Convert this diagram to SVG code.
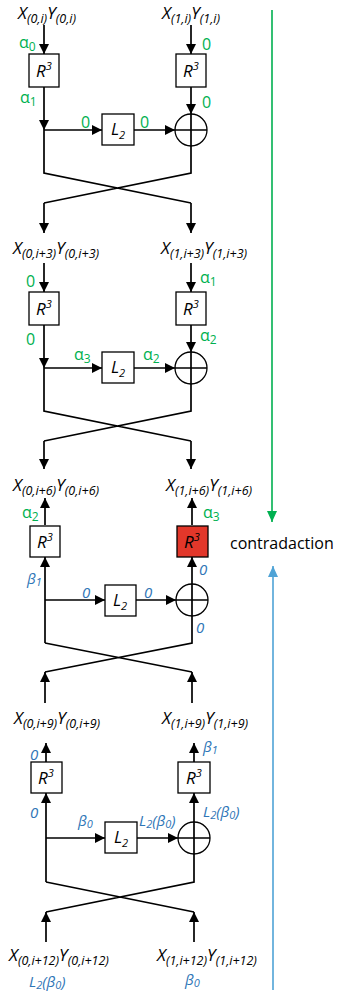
<svg xmlns="http://www.w3.org/2000/svg" width="340" height="995" viewBox="0 0 340 995">
<style>
text{font-family:"Open Sans","Liberation Sans",sans-serif}
.lbl{font-size:17px;font-style:italic;fill:#000}
.lbl .s{font-size:12.5px}
.bt{font-size:17px;font-style:italic;fill:#000}
.bt .s{font-size:11px}
.g{font-size:16px;fill:#00B050}
.g .s{font-size:12px}
.b{font-size:15px;font-style:italic;fill:#2E75B6}
.b .s{font-size:11px}
.box{fill:#fff;stroke:#000;stroke-width:1.3}
.red{fill:#E2372A;stroke:#000;stroke-width:1.3}
.ln{fill:none;stroke:#000;stroke-width:1.7}
.a{marker-end:url(#ah)}
.xor{fill:#fff;stroke:#000;stroke-width:1.3}
</style>
<defs>
<marker id="ah" markerWidth="10" markerHeight="10" refX="10" refY="5" orient="auto" markerUnits="userSpaceOnUse"><path d="M0,0 L10,5 L0,10 z" fill="#000"/></marker>
<marker id="ag" markerWidth="12" markerHeight="12" refX="11" refY="6" orient="auto" markerUnits="userSpaceOnUse"><path d="M0,1 L11,6 L0,11 z" fill="#00B050"/></marker>
<marker id="ab" markerWidth="12" markerHeight="12" refX="11" refY="6" orient="auto" markerUnits="userSpaceOnUse"><path d="M0,1 L11,6 L0,11 z" fill="#4FA3D6"/></marker>
</defs>

<g id="connectors">
<line class="ln a" x1="44" y1="25" x2="44" y2="54"/>
<line class="ln a" x1="191" y1="25" x2="191" y2="54"/>
<line class="ln a" x1="44" y1="87" x2="44" y2="130"/>
<line class="ln a" x1="191" y1="87" x2="191" y2="114"/>
<line class="ln a" x1="44" y1="130" x2="102" y2="130"/>
<line class="ln a" x1="134" y1="130" x2="175" y2="130"/>
<path class="ln" d="M44,130 V173 L191,203 M191,146 V173 L44,203"/>
<line class="ln a" x1="44" y1="203" x2="44" y2="233"/>
<line class="ln a" x1="191" y1="203" x2="191" y2="233"/>
<line class="ln a" x1="44" y1="263" x2="44" y2="292"/>
<line class="ln a" x1="191" y1="263" x2="191" y2="292"/>
<line class="ln a" x1="44" y1="325" x2="44" y2="368"/>
<line class="ln a" x1="191" y1="325" x2="191" y2="352"/>
<line class="ln a" x1="44" y1="368" x2="102" y2="368"/>
<line class="ln a" x1="134" y1="368" x2="175" y2="368"/>
<path class="ln" d="M44,368 V411 L191,441 M191,384 V411 L44,441"/>
<line class="ln a" x1="44" y1="441" x2="44" y2="469"/>
<line class="ln a" x1="191" y1="441" x2="191" y2="469"/>
<line class="ln a" x1="45" y1="525" x2="45" y2="498"/>
<line class="ln a" x1="192" y1="525" x2="192" y2="498"/>
<line class="ln a" x1="45" y1="643" x2="45" y2="557"/>
<line class="ln a" x1="45" y1="600" x2="105" y2="600"/>
<line class="ln a" x1="136" y1="600" x2="176" y2="600"/>
<line class="ln a" x1="192" y1="584" x2="192" y2="557"/>
<path class="ln" d="M192,616 V643 L45,672 M45,643 L192,672"/>
<line class="ln a" x1="45" y1="703" x2="45" y2="672"/>
<line class="ln a" x1="192" y1="703" x2="192" y2="672"/>
<line class="ln a" x1="46" y1="762" x2="46" y2="743"/>
<line class="ln a" x1="194" y1="762" x2="194" y2="743"/>
<line class="ln a" x1="46" y1="882" x2="46" y2="793"/>
<line class="ln a" x1="46" y1="838" x2="105" y2="838"/>
<line class="ln a" x1="137" y1="838" x2="178" y2="838"/>
<line class="ln a" x1="194" y1="822" x2="194" y2="793"/>
<path class="ln" d="M194,854 V882 L46,912 M46,882 L194,912"/>
<line class="ln a" x1="46" y1="942" x2="46" y2="912"/>
<line class="ln a" x1="194" y1="942" x2="194" y2="912"/>
<line x1="272" y1="10" x2="272" y2="522" stroke="#00B050" stroke-width="1.6" marker-end="url(#ag)"/>
<line x1="273" y1="990" x2="273" y2="566" stroke="#4FA3D6" stroke-width="1.6" marker-end="url(#ab)"/>
</g>

<g id="state-0i">
<text class="lbl" x="18" y="19">X<tspan class="s" dy="4">(0,i)</tspan><tspan dy="-4">Y</tspan><tspan class="s" dy="4">(0,i)</tspan></text>
<text class="lbl" x="162" y="19">X<tspan class="s" dy="4">(1,i)</tspan><tspan dy="-4">Y</tspan><tspan class="s" dy="4">(1,i)</tspan></text>
</g>
<g id="state-i3">
<text class="lbl" x="13" y="254">X<tspan class="s" dy="4">(0,i+3)</tspan><tspan dy="-4">Y</tspan><tspan class="s" dy="4">(0,i+3)</tspan></text>
<text class="lbl" x="161" y="254">X<tspan class="s" dy="4">(1,i+3)</tspan><tspan dy="-4">Y</tspan><tspan class="s" dy="4">(1,i+3)</tspan></text>
</g>
<g id="state-i6">
<text class="lbl" x="13" y="491">X<tspan class="s" dy="4">(0,i+6)</tspan><tspan dy="-4">Y</tspan><tspan class="s" dy="4">(0,i+6)</tspan></text>
<text class="lbl" x="166" y="491">X<tspan class="s" dy="4">(1,i+6)</tspan><tspan dy="-4">Y</tspan><tspan class="s" dy="4">(1,i+6)</tspan></text>
</g>
<g id="state-i9">
<text class="lbl" x="14" y="724">X<tspan class="s" dy="4">(0,i+9)</tspan><tspan dy="-4">Y</tspan><tspan class="s" dy="4">(0,i+9)</tspan></text>
<text class="lbl" x="162" y="724">X<tspan class="s" dy="4">(1,i+9)</tspan><tspan dy="-4">Y</tspan><tspan class="s" dy="4">(1,i+9)</tspan></text>
</g>
<g id="state-i12">
<text class="lbl" x="9" y="961">X<tspan class="s" dy="4">(0,i+12)</tspan><tspan dy="-4">Y</tspan><tspan class="s" dy="4">(0,i+12)</tspan></text>
<text class="lbl" x="157" y="961">X<tspan class="s" dy="4">(1,i+12)</tspan><tspan dy="-4">Y</tspan><tspan class="s" dy="4">(1,i+12)</tspan></text>
</g>

<g id="r3-1l"><rect class="box" x="29" y="54" width="30" height="33"/><text class="bt" x="44" y="77" text-anchor="middle">R<tspan class="s" dy="-7">3</tspan></text></g>
<g id="r3-1r"><rect class="box" x="176" y="54" width="30" height="33"/><text class="bt" x="191" y="77" text-anchor="middle">R<tspan class="s" dy="-7">3</tspan></text></g>
<g id="l2-1"><rect class="box" x="102" y="114" width="32" height="31"/><text class="bt" x="118" y="135" text-anchor="middle">L<tspan class="s" dy="4">2</tspan></text></g>
<g id="xor-1"><circle class="xor" cx="191" cy="130" r="16"/><path class="ln" d="M175,130 H207 M191,114 V146" stroke-width="1.3"/></g>

<g id="r3-2l"><rect class="box" x="29" y="292" width="30" height="33"/><text class="bt" x="44" y="315" text-anchor="middle">R<tspan class="s" dy="-7">3</tspan></text></g>
<g id="r3-2r"><rect class="box" x="176" y="292" width="30" height="33"/><text class="bt" x="191" y="315" text-anchor="middle">R<tspan class="s" dy="-7">3</tspan></text></g>
<g id="l2-2"><rect class="box" x="102" y="352" width="32" height="31"/><text class="bt" x="118" y="373" text-anchor="middle">L<tspan class="s" dy="4">2</tspan></text></g>
<g id="xor-2"><circle class="xor" cx="191" cy="368" r="16"/><path class="ln" d="M175,368 H207 M191,352 V384" stroke-width="1.3"/></g>

<g id="r3-3l"><rect class="box" x="30" y="526" width="30" height="31"/><text class="bt" x="45" y="548" text-anchor="middle">R<tspan class="s" dy="-7">3</tspan></text></g>
<g id="r3-3r"><rect class="red" x="177" y="526" width="31" height="31"/><text class="bt" x="192" y="548" text-anchor="middle">R<tspan class="s" dy="-7">3</tspan></text></g>
<g id="l2-3"><rect class="box" x="105" y="585" width="31" height="31"/><text class="bt" x="120" y="606" text-anchor="middle">L<tspan class="s" dy="4">2</tspan></text></g>
<g id="xor-3"><circle class="xor" cx="192" cy="600" r="16"/><path class="ln" d="M176,600 H208 M192,584 V616" stroke-width="1.3"/></g>

<g id="r3-4l"><rect class="box" x="31" y="762" width="31" height="31"/><text class="bt" x="46" y="784" text-anchor="middle">R<tspan class="s" dy="-7">3</tspan></text></g>
<g id="r3-4r"><rect class="box" x="178" y="762" width="32" height="31"/><text class="bt" x="194" y="784" text-anchor="middle">R<tspan class="s" dy="-7">3</tspan></text></g>
<g id="l2-4"><rect class="box" x="105" y="822" width="32" height="31"/><text class="bt" x="121" y="843" text-anchor="middle">L<tspan class="s" dy="4">2</tspan></text></g>
<g id="xor-4"><circle class="xor" cx="194" cy="838" r="16"/><path class="ln" d="M178,838 H210 M194,822 V854" stroke-width="1.3"/></g>

<g id="green-labels">
<text class="g" x="19" y="48">α<tspan class="s" dy="3">0</tspan></text>
<text class="g" x="202" y="50">0</text>
<text class="g" x="20" y="103">α<tspan class="s" dy="3">1</tspan></text>
<text class="g" x="202" y="108">0</text>
<text class="g" x="81" y="128">0</text>
<text class="g" x="140" y="128">0</text>
<text class="g" x="26" y="287">0</text>
<text class="g" x="200" y="283">α<tspan class="s" dy="3">1</tspan></text>
<text class="g" x="26" y="345">0</text>
<text class="g" x="200" y="341">α<tspan class="s" dy="3">2</tspan></text>
<text class="g" x="74" y="360">α<tspan class="s" dy="3">3</tspan></text>
<text class="g" x="143" y="360">α<tspan class="s" dy="3">2</tspan></text>
<text class="g" x="22" y="518">α<tspan class="s" dy="3">2</tspan></text>
<text class="g" x="203" y="518">α<tspan class="s" dy="3">3</tspan></text>
</g>

<g id="blue-labels">
<text class="b" x="27" y="584">β<tspan class="s" dy="2">1</tspan></text>
<text class="b" x="82" y="598">0</text>
<text class="b" x="144" y="598">0</text>
<text class="b" x="199" y="575">0</text>
<text class="b" x="196" y="633">0</text>
<text class="b" x="30" y="760">0</text>
<text class="b" x="203" y="752">β<tspan class="s" dy="2">1</tspan></text>
<text class="b" x="30" y="818">0</text>
<text class="b" x="78" y="826">β<tspan class="s" dy="2">0</tspan></text>
<text class="b" x="139" y="826">L<tspan class="s" dy="2">2</tspan><tspan dy="-2">(β</tspan><tspan class="s" dy="2">0</tspan><tspan dy="-2">)</tspan></text>
<text class="b" x="203" y="817">L<tspan class="s" dy="2">2</tspan><tspan dy="-2">(β</tspan><tspan class="s" dy="2">0</tspan><tspan dy="-2">)</tspan></text>
<text class="b" x="29" y="987">L<tspan class="s" dy="2">2</tspan><tspan dy="-2">(β</tspan><tspan class="s" dy="2">0</tspan><tspan dy="-2">)</tspan></text>
<text class="b" x="185" y="985">β<tspan class="s" dy="2">0</tspan></text>
</g>

<g id="contradaction"><text x="230" y="549" font-size="16" fill="#000">contradaction</text></g>
</svg>
